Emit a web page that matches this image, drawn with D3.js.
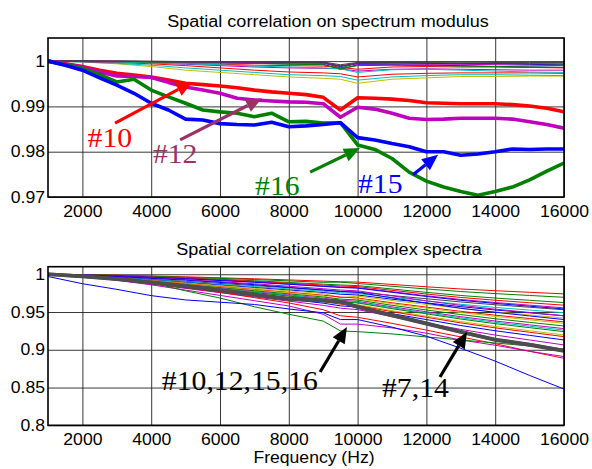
<!DOCTYPE html>
<html>
<head>
<meta charset="utf-8">
<script src="https://cdn.jsdelivr.net/npm/d3@7"></script>
<style>
body { margin: 0; background: #fff; }
</style>
</head>
<body>
<div id="chart"></div>
<script>
// frequency grids (Hz)
var freqFine = [1000,1500,2000,2500,3000,3500,4000,4500,5000,5500,6000,6500,7000,7500,8000,8500,
                9000,9500,10000,10500,11000,11500,12000,12500,13000,13500,14000,14500,15000,15500,16000];
var freqCoarse = [1000,2000,3000,4000,5000,6000,7000,8000,9000,9500,10000,11000,12000,13000,14000,15000,16000];

var xTicks = [2000,4000,6000,8000,10000,12000,14000,16000];
var topYTicks = [0.97,0.98,0.99,1];
var topYLabels = ["0.97","0.98","0.99","1"];
var botYTicks = [0.8,0.85,0.9,0.95,1];
var botYLabels = ["0.8","0.85","0.9","0.95","1"];

var topTitle = "Spatial correlation on spectrum modulus";
var botTitle = "Spatial correlation on complex spectra";
var xLabel = "Frequency (Hz)";

// matlab colour order
var cB = "#0000ff", cG = "#008000", cR = "#ff0000", cC = "#00bfbf", cM = "#bf00bf", cY = "#bfbf00", cK = "#404040";

// top panel, highlighted sensors (on freqFine)
var top10 = [1.0,.9994,.9988,.9980,.9973,.9969,.9965,.9958,.9951,.9948,.9945,.9941,.9936,.9932,.9929,.9926,
             .9920,.9892,.9919,.9918,.9916,.9913,.9908,.9907,.9906,.9906,.9906,.9904,.9901,.9896,.9888];
var top12 = [1.0,.9993,.9987,.9976,.9967,.9966,.9964,.9953,.9943,.9936,.9929,.9918,.9914,.9912,.9910,.9909,
             .9906,.9876,.9898,.9894,.9885,.9874,.9871,.9872,.9874,.9874,.9874,.9872,.9866,.9860,.9852];
var top16 = [1.0,.9992,.9984,.9970,.9954,.9960,.9936,.9921,.9907,.9892,.9888,.9885,.9877,.9885,.9866,.9867,
             .9863,.9864,.9815,.9805,.9785,.9755,.9735,.9722,.9712,.9704,.9712,.9722,.9738,.9757,.9775];
var top15 = [1.0,.9991,.9980,.9963,.9947,.9929,.9907,.9892,.9872,.9870,.9862,.9860,.9859,.9865,.9855,.9857,
             .9860,.9864,.9831,.9826,.9818,.9811,.9800,.9800,.9792,.9795,.9800,.9806,.9805,.9806,.9806];

// top panel, other sensors (on freqCoarse)
var topOthers = [
  [.99999,.9998,.9994,.9988,.9980,.9975,.9970,.9965,.9962,.9960,.9951,.9960,.9963,.9966,.9966,.9967,.9967],
  [1,.9998,.9995,.9991,.9985,.9980,.9975,.9970,.9968,.9966,.9958,.9965,.9968,.9970,.9970,.9969,.9968],
  [1,.9999,.9997,.9994,.9990,.9985,.9980,.9976,.9974,.9972,.9965,.9971,.9973,.9974,.9974,.9974,.9973],
  [1,.9999,.9998,.9996,.9993,.9990,.9987,.9985,.9984,.9983,.9978,.9982,.9983,.9982,.9981,.9980,.9980],
  [1,1,.9999,.9998,.9997,.9996,.9995,.9994,.9993,.9982,.9992,.9992,.9991,.9990,.9988,.9987,.9986],
  [1,1,1,.9999,.9999,.9998,.9998,.9997,.9996,.9985,.9995,.9996,.9996,.9995,.9995,.9994,.9993],
  [1,1,1,1,.9999,.9999,.9999,.9998,.9998,.9992,.9997,.9998,.9998,.9998,.9997,.9997,.9997],
  [1,1,.9999,.9999,.9998,.9998,.9997,.9997,.9996,.9988,.9995,.9996,.9995,.9994,.9994,.9993,.9991],
  [1,.9999,.9998,.9997,.9995,.9993,.9991,.9990,.9989,.9986,.9982,.9987,.9988,.9987,.9987,.9986,.9985],
  [1,.9999,.9998,.9996,.9994,.9992,.9989,.9987,.9985,.9983,.9975,.9981,.9982,.9980,.9978,.9976,.9975],
  [1,1,.9999,.9998,.9997,.9996,.9995,.9993,.9992,.9983,.9990,.9991,.9990,.9989,.9988,.9987,.9986],
  [1,1,1,.9999,.9998,.9998,.9997,.9996,.9995,.9990,.9994,.9994,.9993,.9993,.9992,.9991,.9990],
  [1,1,1,.9999,.9999,.9998,.9998,.9997,.9997,.9989,.9996,.9997,.9996,.9996,.9995,.9994,.9994]
];
var topOtherColors = [cY, cC, cR, cM, cB, cG, cK, cB, cR, cC, cG, cM, cK];

// bottom panel, all sensors (on freqCoarse)
var botOthers = [
  [1,.9995,.9987,.9977,.9966,.9953,.9940,.9925,.9909,.9901,.9896,.9865,.9834,.9805,.9782,.9761,.9740],
  [1,.9994,.9985,.9973,.9960,.9945,.9930,.9912,.9893,.9895,.9878,.9841,.9805,.9771,.9744,.9719,.9695],
  [1,.9993,.9981,.9966,.9951,.9933,.9914,.9891,.9869,.9858,.9850,.9805,.9760,.9719,.9685,.9655,.9625],
  [1,.9992,.9980,.9963,.9947,.9926,.9906,.9881,.9857,.9844,.9836,.9787,.9738,.9693,.9656,.9623,.9590],
  [1,.9991,.9978,.9960,.9942,.9920,.9898,.9871,.9844,.9831,.9822,.9769,.9715,.9666,.9626,.9591,.9555],
  [1,.9991,.9977,.9959,.9940,.9917,.9894,.9867,.9839,.9825,.9816,.9761,.9706,.9655,.9614,.9577,.9540],
  [1,.9986,.9962,.9934,.9906,.9878,.9850,.9821,.9793,.9774,.9765,.9718,.9676,.9633,.9596,.9563,.9530],
  [1,.9985,.9959,.9929,.9898,.9867,.9837,.9806,.9776,.9755,.9745,.9694,.9648,.9602,.9561,.9526,.9490],
  [1,.9984,.9956,.9923,.9890,.9857,.9824,.9791,.9758,.9736,.9725,.9670,.9621,.9571,.9527,.9489,.9450],
  [1,.9989,.9973,.9951,.9929,.9901,.9874,.9841,.9808,.9791,.9780,.9714,.9648,.9588,.9538,.9494,.9450],
  [1,.9983,.9954,.9919,.9884,.9849,.9814,.9780,.9745,.9690,.9710,.9652,.9600,.9548,.9501,.9461,.9420],
  [1,.9988,.9970,.9946,.9922,.9892,.9862,.9826,.9790,.9772,.9760,.9688,.9616,.9550,.9496,.9448,.9400],
  [1,.9981,.9950,.9912,.9874,.9836,.9798,.9761,.9723,.9698,.9685,.9622,.9565,.9509,.9458,.9414,.9370],
  [1,.9981,.9948,.9909,.9870,.9831,.9792,.9753,.9714,.9650,.9675,.9610,.9552,.9493,.9441,.9396,.9350],
  [1,.9979,.9945,.9904,.9863,.9822,.9781,.9740,.9699,.9671,.9658,.9589,.9527,.9466,.9411,.9363,.9315],
  [1,.9978,.9942,.9899,.9856,.9813,.9770,.9726,.9683,.9654,.9640,.9568,.9503,.9438,.9381,.9330,.9280],
  [1,.9978,.9941,.9896,.9852,.9808,.9763,.9719,.9674,.9645,.9630,.9556,.9489,.9423,.9364,.9312,.9260],
  [1,.9977,.9939,.9894,.9848,.9802,.9757,.9711,.9666,.9635,.9620,.9544,.9476,.9407,.9346,.9293,.9240],
  [1,.9976,.9936,.9887,.9839,.9791,.9743,.9694,.9646,.9614,.9598,.9518,.9445,.9373,.9309,.9252,.9196],
  [1,.9975,.9934,.9884,.9835,.9785,.9736,.9686,.9637,.9604,.9587,.9504,.9430,.9356,.9290,.9232,.9174],
  [1,.9974,.9930,.9878,.9826,.9774,.9722,.9669,.9617,.9582,.9565,.9478,.9400,.9321,.9252,.9191,.9130],
  [1,.9972,.9925,.9869,.9813,.9757,.9700,.9644,.9588,.9551,.9532,.9438,.9354,.9270,.9195,.9130,.9064],
  [1,.9975,.9930,.9880,.9820,.9760,.9690,.9620,.9530,.9450,.9430,.9350,.9260,.9170,.9080,.8980,.8887],
  [1,.9970,.9920,.9860,.9790,.9720,.9650,.9580,.9470,.9340,.9340,.9290,.9220,.9130,.9060,.8980,.8910],
  [1,.9985,.9950,.9890,.9780,.9685,.9570,.9470,.9380,.9250,.9240,.9210,.9170,.9130,.9090,.9050,.9010],
  [.9970,.9875,.9800,.9717,.9660,.9630,.9600,.9540,.9490,.9400,.9400,.9300,.9180,.9020,.8850,.8660,.8480]
];
var botOtherColors = [cR, cG, cG, cR, cM, cB, cK, cC, cB, cM, cY, cB, cR, cY, cG, cM, cC, cG, cY, cR, cB, cM, cR, cM, cG, cB];

// bottom panel, sensors #7 and #14 (on freqCoarse)
var bot7 = [1,.9972,.9935,.9890,.9840,.9785,.9725,.9670,.9650,.9640,.9570,.9460,.9350,.9240,.9130,.9065,.8985];
var bot14 = [1,.9974,.9940,.9895,.9846,.9792,.9732,.9680,.9655,.9635,.9565,.9455,.9345,.9235,.9135,.9070,.8990];

// annotations: [text, textFreq, textValue, fromFreq, fromValue, toFreq, toValue]
var topNotes = [
  ["#10", 2150, .9810, 2950, .9863, 5200, .9954],
  ["#12", 4050, .9775, 4840, .9826, 7220, .9918],
  ["#16", 7020, .9704, 8620, .9755, 10070, .9808],
  ["#15", 10010, .9709, 11610, .9749, 12340, .9793]
];
var topNoteColors = [cR, "#993366", cG, cB];
var botNotes = [
  ["#10,12,15,16", 4310, .8468, 8910, .8706, 9690, .9302],
  ["#7,14", 10710, .8375, 12395, .8640, 13180, .9236]
];

var W = 592, H = 469;
var left = 48, right = 564;
var sx = 1.1; // text is a bit wide in the original

var svg = d3.select("#chart").append("svg")
  .attr("width", W).attr("height", H)
  .style("font-family", "'Liberation Sans', Arial, sans-serif");

var x = d3.scaleLinear().domain([1000, 16000]).range([left, right]);

function drawPanel(p) {
  var y = d3.scaleLinear().domain(p.yDomain).range([p.bottom, p.top]);
  var h = p.bottom - p.top;
  var g = svg.append("g");

  var clipId = "clip" + p.id;
  svg.append("clipPath").attr("id", clipId)
    .append("rect").attr("x", left).attr("y", p.top).attr("width", right - left).attr("height", h);

  // x grid + labels
  var gx = g.append("g").attr("transform", "translate(0," + p.bottom + ")")
    .call(d3.axisBottom(x).tickValues(xTicks).tickSize(-h).tickPadding(8.6).tickFormat(d3.format("d")));
  gx.select(".domain").remove();
  gx.selectAll("line").attr("stroke", "#222").attr("stroke-width", 0.9);
  gx.selectAll("text").attr("fill", "#000").style("font-size", "16px")
    .attr("transform", "scale(" + sx + ",1)");

  // y grid + labels
  var gy = g.append("g").attr("transform", "translate(" + left + ",0)")
    .call(d3.axisLeft(y).tickValues(p.yTicks).tickSize(-(right - left)).tickPadding(2.7)
      .tickFormat(function(d, i) { return p.yLabels[i]; }));
  gy.select(".domain").remove();
  gy.selectAll("line").attr("stroke", "#222").attr("stroke-width", 0.9);
  gy.selectAll("text").attr("fill", "#000").style("font-size", "16px")
    .attr("transform", "scale(" + sx + ",1)");

  var line = d3.line().x(function(d) { return x(d[0]); }).y(function(d) { return y(d[1]); });
  var plot = g.append("g").attr("clip-path", "url(#" + clipId + ")");

  p.series.forEach(function(s) {
    plot.append("path")
      .datum(s.freq.map(function(f, i) { return [f, s.values[i]]; }))
      .attr("d", line)
      .attr("fill", "none")
      .attr("stroke", s.color)
      .attr("stroke-width", s.width)
      .attr("stroke-linejoin", "round");
  });

  // frame
  g.append("rect").attr("x", left).attr("y", p.top).attr("width", right - left).attr("height", h)
    .attr("fill", "none").attr("stroke", "#000").attr("stroke-width", 1.6);

  // title
  g.append("text")
    .attr("transform", "translate(" + p.titleX + "," + p.titleY + ") scale(" + sx + ",1)")
    .attr("text-anchor", "middle").style("font-size", "16.4px").attr("fill", "#000")
    .text(p.title);

  // annotations
  p.notes.forEach(function(n, i) {
    var col = p.noteColors[i];
    var x1 = x(n[3]), y1 = y(n[4]), x2 = x(n[5]), y2 = y(n[6]);
    var ang = Math.atan2(y2 - y1, x2 - x1);
    var len = 16, hw = 7;
    var bx = x2 - len * Math.cos(ang), by = y2 - len * Math.sin(ang);
    g.append("line").attr("x1", x1).attr("y1", y1).attr("x2", bx).attr("y2", by)
      .attr("stroke", col).attr("stroke-width", 3.2);
    g.append("path")
      .attr("d", "M" + x2 + "," + y2 +
        "L" + (bx + hw * Math.sin(ang)) + "," + (by - hw * Math.cos(ang)) +
        "L" + (bx - hw * Math.sin(ang)) + "," + (by + hw * Math.cos(ang)) + "Z")
      .attr("fill", col);
    g.append("text")
      .attr("transform", "translate(" + x(n[1]) + "," + y(n[2]) + ") scale(" + sx + ",1)")
      .style("font-family", "'Liberation Serif', 'Times New Roman', serif")
      .style("font-size", "27px").attr("fill", col)
      .text(n[0]);
  });
  return y;
}

var topSeries = topOthers.map(function(v, i) {
  return { freq: freqCoarse, values: v, color: topOtherColors[i], width: 1 };
});
topSeries.push({ freq: freqFine, values: top10, color: cR, width: 3.6 });
topSeries.push({ freq: freqFine, values: top12, color: cM, width: 3.6 });
topSeries.push({ freq: freqFine, values: top16, color: cG, width: 3.6 });
topSeries.push({ freq: freqFine, values: top15, color: cB, width: 3.6 });

var botSeries = botOthers.map(function(v, i) {
  return { freq: freqCoarse, values: v, color: botOtherColors[i], width: 1 };
});
botSeries.push({ freq: freqCoarse, values: bot7, color: "#4d4d4d", width: 3.6 });
botSeries.push({ freq: freqCoarse, values: bot14, color: "#4d4d4d", width: 3.6 });

drawPanel({
  id: "top", top: 38, bottom: 197, yDomain: [0.97, 1.0051],
  yTicks: topYTicks, yLabels: topYLabels, title: topTitle, titleX: 328, titleY: 26.5,
  series: topSeries, notes: topNotes, noteColors: topNoteColors
});
drawPanel({
  id: "bot", top: 266.7, bottom: 425.3, yDomain: [0.8, 1.01],
  yTicks: botYTicks, yLabels: botYLabels, title: botTitle, titleX: 329, titleY: 255,
  series: botSeries, notes: botNotes, noteColors: ["#000", "#000"]
});

svg.append("text")
  .attr("transform", "translate(314,463) scale(" + sx + ",1)")
  .attr("text-anchor", "middle").style("font-size", "16px").attr("fill", "#000")
  .text(xLabel);
</script>
</body>
</html>
